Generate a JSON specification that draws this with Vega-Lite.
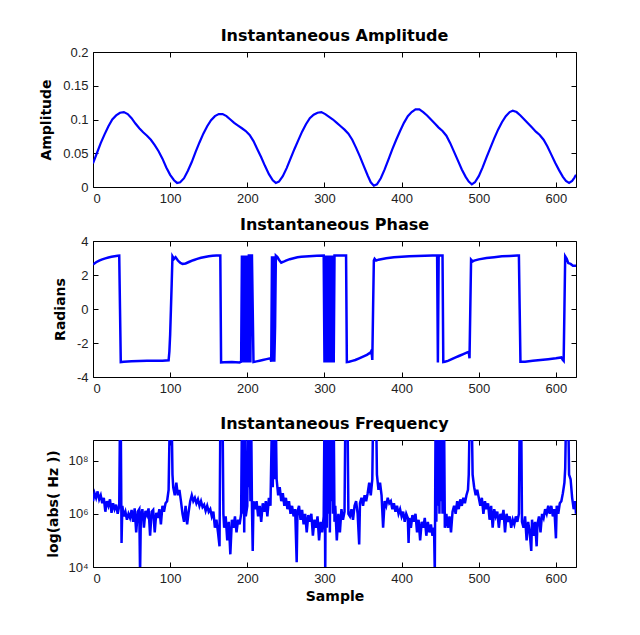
{
  "$schema": "https://vega.github.io/schema/vega-lite/v6.json",
  "padding": {"left": 39, "top": 28, "right": 5, "bottom": 5},
  "background": "white",
  "spacing": 12,
  "datasets": {
    "amp": [
      {"s":0,"v":0.035},{"s":5,"v":0.05},{"s":10,"v":0.065},{"s":15,"v":0.078},{"s":20,"v":0.09},{"s":25,"v":0.1},{"s":30,"v":0.106},{"s":35,"v":0.11},{"s":40,"v":0.111},{"s":45,"v":0.108},{"s":50,"v":0.102},{"s":55,"v":0.094},{"s":60,"v":0.087},{"s":65,"v":0.081},{"s":70,"v":0.076},{"s":75,"v":0.07},{"s":80,"v":0.062},{"s":85,"v":0.053},{"s":90,"v":0.042},{"s":95,"v":0.029},{"s":100,"v":0.018},{"s":105,"v":0.01},{"s":109,"v":0.006},{"s":113,"v":0.007},{"s":118,"v":0.013},{"s":123,"v":0.024},{"s":128,"v":0.037},{"s":133,"v":0.052},{"s":138,"v":0.066},{"s":143,"v":0.079},{"s":148,"v":0.09},{"s":153,"v":0.099},{"s":158,"v":0.105},{"s":163,"v":0.108},{"s":168,"v":0.108},{"s":173,"v":0.105},{"s":178,"v":0.1},{"s":183,"v":0.095},{"s":188,"v":0.091},{"s":193,"v":0.087},{"s":198,"v":0.083},{"s":203,"v":0.077},{"s":208,"v":0.068},{"s":213,"v":0.056},{"s":218,"v":0.044},{"s":223,"v":0.031},{"s":228,"v":0.019},{"s":233,"v":0.01},{"s":237,"v":0.006},{"s":241,"v":0.008},{"s":246,"v":0.016},{"s":251,"v":0.028},{"s":256,"v":0.042},{"s":261,"v":0.056},{"s":266,"v":0.069},{"s":271,"v":0.082},{"s":276,"v":0.093},{"s":281,"v":0.102},{"s":286,"v":0.107},{"s":291,"v":0.11},{"s":296,"v":0.111},{"s":301,"v":0.108},{"s":306,"v":0.104},{"s":311,"v":0.1},{"s":316,"v":0.095},{"s":321,"v":0.09},{"s":326,"v":0.085},{"s":331,"v":0.079},{"s":336,"v":0.07},{"s":341,"v":0.058},{"s":346,"v":0.045},{"s":351,"v":0.031},{"s":356,"v":0.017},{"s":360,"v":0.007},{"s":364,"v":0.002},{"s":368,"v":0.004},{"s":373,"v":0.013},{"s":378,"v":0.026},{"s":383,"v":0.041},{"s":388,"v":0.056},{"s":393,"v":0.07},{"s":398,"v":0.083},{"s":403,"v":0.095},{"s":408,"v":0.105},{"s":413,"v":0.111},{"s":418,"v":0.115},{"s":423,"v":0.115},{"s":428,"v":0.111},{"s":433,"v":0.106},{"s":438,"v":0.1},{"s":443,"v":0.094},{"s":448,"v":0.088},{"s":453,"v":0.083},{"s":458,"v":0.076},{"s":463,"v":0.065},{"s":468,"v":0.052},{"s":473,"v":0.039},{"s":478,"v":0.026},{"s":483,"v":0.015},{"s":487,"v":0.008},{"s":491,"v":0.004},{"s":495,"v":0.007},{"s":500,"v":0.016},{"s":505,"v":0.029},{"s":510,"v":0.044},{"s":515,"v":0.058},{"s":520,"v":0.072},{"s":525,"v":0.085},{"s":530,"v":0.096},{"s":535,"v":0.105},{"s":540,"v":0.111},{"s":544,"v":0.113},{"s":549,"v":0.111},{"s":554,"v":0.106},{"s":559,"v":0.1},{"s":564,"v":0.094},{"s":569,"v":0.088},{"s":574,"v":0.082},{"s":579,"v":0.077},{"s":584,"v":0.07},{"s":589,"v":0.06},{"s":594,"v":0.048},{"s":599,"v":0.036},{"s":604,"v":0.025},{"s":609,"v":0.015},{"s":613,"v":0.009},{"s":617,"v":0.006},{"s":621,"v":0.009},{"s":624,"v":0.014},{"s":626,"v":0.018}
    ],
    "phase": [
      {"s":0,"v":2.62},{"s":4,"v":2.75},{"s":8,"v":2.85},{"s":12,"v":2.92},{"s":16,"v":2.98},{"s":20,"v":3.03},{"s":24,"v":3.07},{"s":28,"v":3.1},{"s":32,"v":3.13},{"s":34,"v":3.14},{"s":35,"v":0},{"s":36,"v":-3.12},{"s":40,"v":-3.1},{"s":50,"v":-3.08},{"s":60,"v":-3.06},{"s":70,"v":-3.05},{"s":80,"v":-3.05},{"s":90,"v":-3.04},{"s":98,"v":-3.02},{"s":99,"v":-2.5},{"s":100,"v":-1.5},{"s":101,"v":0},{"s":102,"v":1.5},{"s":103,"v":3.1},{"s":105,"v":2.95},{"s":107,"v":3.05},{"s":110,"v":2.85},{"s":113,"v":2.72},{"s":116,"v":2.65},{"s":120,"v":2.68},{"s":125,"v":2.78},{"s":130,"v":2.87},{"s":135,"v":2.95},{"s":140,"v":3.01},{"s":145,"v":3.06},{"s":150,"v":3.1},{"s":155,"v":3.13},{"s":160,"v":3.14},{"s":165,"v":3.14},{"s":166,"v":-3.14},{"s":170,"v":-3.13},{"s":180,"v":-3.12},{"s":190,"v":-3.14},{"s":192,"v":-3.1},{"s":193,"v":3.14},{"s":194,"v":-3.14},{"s":195,"v":3.14},{"s":196,"v":0},{"s":197,"v":-3.14},{"s":198,"v":3.14},{"s":199,"v":-3.14},{"s":200,"v":3.14},{"s":201,"v":-3.14},{"s":202,"v":3.14},{"s":203,"v":3.14},{"s":204,"v":-3.14},{"s":205,"v":3.14},{"s":206,"v":3.14},{"s":207,"v":0},{"s":208,"v":-3.12},{"s":212,"v":-3.08},{"s":216,"v":-3.04},{"s":220,"v":-3.0},{"s":225,"v":-2.95},{"s":230,"v":-2.9},{"s":231,"v":-3.1},{"s":232,"v":3.1},{"s":233,"v":-3.1},{"s":234,"v":3.1},{"s":235,"v":-3.1},{"s":236,"v":-1},{"s":237,"v":3.14},{"s":239,"v":3.05},{"s":241,"v":2.9},{"s":244,"v":2.72},{"s":247,"v":2.78},{"s":250,"v":2.85},{"s":255,"v":2.93},{"s":260,"v":2.99},{"s":265,"v":3.04},{"s":270,"v":3.07},{"s":280,"v":3.1},{"s":290,"v":3.13},{"s":299,"v":3.14},{"s":300,"v":-3.14},{"s":301,"v":3.14},{"s":302,"v":-3.14},{"s":303,"v":3.14},{"s":304,"v":-3.14},{"s":305,"v":3.14},{"s":306,"v":-3.14},{"s":307,"v":3.14},{"s":308,"v":-3.14},{"s":309,"v":3.14},{"s":310,"v":-3.14},{"s":311,"v":3.14},{"s":312,"v":-3.14},{"s":313,"v":3.14},{"s":320,"v":3.14},{"s":328,"v":3.14},{"s":329,"v":-3.12},{"s":332,"v":-3.1},{"s":336,"v":-3.05},{"s":340,"v":-3.0},{"s":345,"v":-2.9},{"s":350,"v":-2.8},{"s":355,"v":-2.7},{"s":360,"v":-2.55},{"s":361,"v":-2.45},{"s":362,"v":-3.0},{"s":363,"v":0},{"s":364,"v":2.85},{"s":365,"v":2.95},{"s":367,"v":2.85},{"s":370,"v":2.9},{"s":380,"v":2.98},{"s":390,"v":3.04},{"s":400,"v":3.08},{"s":410,"v":3.1},{"s":420,"v":3.12},{"s":430,"v":3.13},{"s":440,"v":3.14},{"s":446,"v":3.14},{"s":447,"v":-3.14},{"s":448,"v":3.14},{"s":453,"v":3.14},{"s":454,"v":-3.12},{"s":456,"v":-3.1},{"s":460,"v":-3.05},{"s":465,"v":-2.95},{"s":470,"v":-2.85},{"s":475,"v":-2.75},{"s":480,"v":-2.65},{"s":485,"v":-2.55},{"s":487,"v":-2.52},{"s":488,"v":-2.9},{"s":489,"v":0},{"s":490,"v":2.9},{"s":492,"v":2.8},{"s":494,"v":2.85},{"s":500,"v":2.92},{"s":510,"v":3.0},{"s":520,"v":3.05},{"s":530,"v":3.1},{"s":540,"v":3.12},{"s":550,"v":3.14},{"s":552,"v":3.14},{"s":553,"v":0},{"s":554,"v":-3.1},{"s":560,"v":-3.1},{"s":570,"v":-3.05},{"s":580,"v":-3.0},{"s":590,"v":-2.95},{"s":600,"v":-2.9},{"s":607,"v":-2.85},{"s":609,"v":-3.0},{"s":610,"v":-3.05},{"s":611,"v":0},{"s":612,"v":3.1},{"s":614,"v":2.95},{"s":616,"v":2.7},{"s":619,"v":2.65},{"s":622,"v":2.55},{"s":626,"v":2.55}
    ],
    "freq": [
      {"s":0,"v":3e6},{"s":2,"v":6e6},{"s":4,"v":4e6},{"s":6,"v":7e6},{"s":8,"v":3.5e6},{"s":10,"v":5e6},{"s":12,"v":2.5e6},{"s":14,"v":4e6},{"s":16,"v":1.2e6},{"s":18,"v":3e6},{"s":20,"v":2e6},{"s":22,"v":3.5e6},{"s":24,"v":1.1e6},{"s":26,"v":2.5e6},{"s":28,"v":1.5e6},{"s":30,"v":2.2e6},{"s":32,"v":1e6},{"s":34,"v":2e6},{"s":35,"v":5e9},{"s":36,"v":3e9},{"s":37,"v":8e4},{"s":38,"v":2e6},{"s":40,"v":8e5},{"s":42,"v":1.2e6},{"s":44,"v":6e5},{"s":46,"v":1e6},{"s":48,"v":7e5},{"s":50,"v":1.4e6},{"s":52,"v":5e5},{"s":54,"v":1.6e6},{"s":56,"v":2e5},{"s":58,"v":1.2e6},{"s":60,"v":1.5e6},{"s":61,"v":5e3},{"s":62,"v":8e5},{"s":64,"v":1.5e6},{"s":66,"v":3e5},{"s":68,"v":1.3e6},{"s":70,"v":9e5},{"s":72,"v":1.6e6},{"s":74,"v":1.5e5},{"s":76,"v":1.2e6},{"s":78,"v":1.4e6},{"s":80,"v":2e5},{"s":82,"v":1.1e6},{"s":84,"v":7e5},{"s":86,"v":1.5e6},{"s":88,"v":4e5},{"s":90,"v":2e6},{"s":92,"v":1.2e6},{"s":94,"v":2.5e6},{"s":96,"v":3e6},{"s":98,"v":8e6},{"s":99,"v":5e8},{"s":100,"v":5e9},{"s":101,"v":2e9},{"s":102,"v":4e9},{"s":103,"v":3e7},{"s":104,"v":1e7},{"s":106,"v":5e6},{"s":108,"v":1.5e7},{"s":110,"v":5e6},{"s":112,"v":8e6},{"s":114,"v":3e6},{"s":116,"v":1e6},{"s":118,"v":5e5},{"s":120,"v":2e6},{"s":122,"v":4e5},{"s":124,"v":1.2e6},{"s":126,"v":3e6},{"s":128,"v":5e6},{"s":130,"v":3e6},{"s":132,"v":4e6},{"s":134,"v":2.5e6},{"s":136,"v":3.5e6},{"s":138,"v":2e6},{"s":140,"v":3e6},{"s":142,"v":1.8e6},{"s":144,"v":2.2e6},{"s":146,"v":1.3e6},{"s":148,"v":2e6},{"s":150,"v":1.2e6},{"s":152,"v":1.5e6},{"s":154,"v":8e5},{"s":156,"v":1.2e6},{"s":158,"v":3e5},{"s":160,"v":6e5},{"s":162,"v":2e5},{"s":164,"v":6e4},{"s":165,"v":3e9},{"s":166,"v":5e9},{"s":167,"v":2e9},{"s":168,"v":3e9},{"s":169,"v":1e6},{"s":170,"v":3e5},{"s":172,"v":8e5},{"s":174,"v":1e5},{"s":176,"v":5e5},{"s":178,"v":3e4},{"s":180,"v":6e5},{"s":182,"v":3e5},{"s":184,"v":8e5},{"s":186,"v":2e5},{"s":188,"v":6e5},{"s":190,"v":4e5},{"s":192,"v":1e6},{"s":193,"v":5e9},{"s":194,"v":1e6},{"s":195,"v":4e9},{"s":196,"v":2e5},{"s":197,"v":5e9},{"s":198,"v":8e5},{"s":200,"v":2e6},{"s":201,"v":5e9},{"s":202,"v":1e7},{"s":203,"v":4e9},{"s":204,"v":3e6},{"s":205,"v":5e9},{"s":206,"v":2e6},{"s":207,"v":4e4},{"s":208,"v":3e6},{"s":210,"v":1.5e6},{"s":212,"v":3e6},{"s":214,"v":8e5},{"s":216,"v":2e6},{"s":218,"v":5e5},{"s":220,"v":2.5e6},{"s":222,"v":1.2e6},{"s":224,"v":3e6},{"s":226,"v":8e5},{"s":228,"v":4e6},{"s":230,"v":2e6},{"s":232,"v":5e9},{"s":233,"v":1e7},{"s":234,"v":4e9},{"s":235,"v":2e7},{"s":236,"v":5e9},{"s":237,"v":3e9},{"s":238,"v":2e7},{"s":240,"v":5e6},{"s":242,"v":1e7},{"s":244,"v":3e6},{"s":246,"v":6e6},{"s":248,"v":2e6},{"s":250,"v":4e6},{"s":252,"v":1.5e6},{"s":254,"v":3e6},{"s":256,"v":1e6},{"s":258,"v":2e6},{"s":260,"v":8e5},{"s":262,"v":1.5e6},{"s":264,"v":1.5e4},{"s":265,"v":1.2e6},{"s":267,"v":2e6},{"s":269,"v":6e5},{"s":271,"v":1.4e6},{"s":273,"v":4e5},{"s":275,"v":1e6},{"s":277,"v":2e5},{"s":279,"v":9e5},{"s":281,"v":5e5},{"s":283,"v":1e6},{"s":285,"v":1.5e5},{"s":287,"v":6e5},{"s":289,"v":3e5},{"s":291,"v":8e5},{"s":293,"v":1e5},{"s":295,"v":5e5},{"s":297,"v":2e5},{"s":299,"v":8e5},{"s":300,"v":5e9},{"s":301,"v":5e3},{"s":302,"v":4e9},{"s":303,"v":3e5},{"s":304,"v":5e9},{"s":305,"v":1e6},{"s":306,"v":4e9},{"s":307,"v":2e5},{"s":308,"v":5e9},{"s":309,"v":3e6},{"s":310,"v":4e9},{"s":311,"v":1e6},{"s":312,"v":5e9},{"s":313,"v":5e5},{"s":314,"v":2e6},{"s":316,"v":1e5},{"s":318,"v":1e6},{"s":320,"v":2e5},{"s":322,"v":1.5e6},{"s":324,"v":6e5},{"s":326,"v":1.2e6},{"s":327,"v":3e9},{"s":328,"v":5e9},{"s":330,"v":2e9},{"s":331,"v":1e6},{"s":333,"v":8e5},{"s":335,"v":1.5e6},{"s":337,"v":6e5},{"s":339,"v":2e6},{"s":341,"v":3e6},{"s":343,"v":1e6},{"s":345,"v":7e4},{"s":346,"v":2.5e6},{"s":348,"v":4e6},{"s":350,"v":2e6},{"s":352,"v":5e6},{"s":354,"v":3e6},{"s":356,"v":6e6},{"s":358,"v":1.5e7},{"s":360,"v":5e6},{"s":362,"v":2e7},{"s":363,"v":5e9},{"s":365,"v":3e9},{"s":367,"v":5e9},{"s":368,"v":3e7},{"s":370,"v":8e6},{"s":372,"v":1.5e7},{"s":374,"v":5e6},{"s":376,"v":3e5},{"s":378,"v":3e6},{"s":380,"v":2e6},{"s":382,"v":4e6},{"s":384,"v":2.5e6},{"s":386,"v":3e6},{"s":388,"v":1.5e6},{"s":390,"v":2.5e6},{"s":392,"v":1.2e6},{"s":394,"v":2e6},{"s":396,"v":1e6},{"s":398,"v":1.5e6},{"s":400,"v":8e5},{"s":402,"v":1.2e6},{"s":404,"v":5e5},{"s":406,"v":1e6},{"s":408,"v":7e5},{"s":409,"v":8e4},{"s":410,"v":7e5},{"s":412,"v":3e5},{"s":414,"v":9e5},{"s":416,"v":5e5},{"s":418,"v":1e6},{"s":420,"v":2e5},{"s":422,"v":6e5},{"s":424,"v":1e5},{"s":426,"v":5e5},{"s":428,"v":3e5},{"s":430,"v":7e5},{"s":432,"v":1.5e5},{"s":434,"v":5e5},{"s":436,"v":2e5},{"s":438,"v":4e5},{"s":440,"v":1.5e5},{"s":442,"v":3e5},{"s":443,"v":6e3},{"s":444,"v":4e9},{"s":445,"v":5e5},{"s":446,"v":5e9},{"s":447,"v":2e6},{"s":448,"v":4e9},{"s":449,"v":1e6},{"s":450,"v":5e9},{"s":451,"v":3e6},{"s":452,"v":5e9},{"s":453,"v":1e6},{"s":454,"v":4e9},{"s":455,"v":5e9},{"s":456,"v":3e5},{"s":458,"v":1e6},{"s":460,"v":3e5},{"s":462,"v":8e5},{"s":464,"v":2e5},{"s":466,"v":1.2e6},{"s":468,"v":2e6},{"s":470,"v":1e6},{"s":472,"v":3e6},{"s":474,"v":1.5e6},{"s":476,"v":3.5e6},{"s":478,"v":2e6},{"s":480,"v":4e6},{"s":482,"v":2.5e6},{"s":484,"v":5e6},{"s":486,"v":8e6},{"s":487,"v":3e7},{"s":488,"v":2e9},{"s":490,"v":5e9},{"s":491,"v":3e9},{"s":492,"v":3e7},{"s":494,"v":1e7},{"s":496,"v":5e6},{"s":498,"v":8e6},{"s":500,"v":4e6},{"s":502,"v":2e6},{"s":504,"v":4e6},{"s":506,"v":1e6},{"s":508,"v":3e6},{"s":510,"v":1.5e6},{"s":512,"v":2.5e6},{"s":514,"v":6e5},{"s":516,"v":2e6},{"s":518,"v":3e5},{"s":520,"v":1.5e6},{"s":522,"v":8e5},{"s":524,"v":1.2e6},{"s":526,"v":3e5},{"s":528,"v":1e6},{"s":530,"v":6e5},{"s":532,"v":1.4e6},{"s":534,"v":2e5},{"s":536,"v":1e6},{"s":538,"v":5e5},{"s":540,"v":8e5},{"s":542,"v":3e5},{"s":544,"v":6e5},{"s":546,"v":4e5},{"s":548,"v":8e5},{"s":550,"v":5e5},{"s":552,"v":1e6},{"s":553,"v":5e9},{"s":555,"v":4e9},{"s":556,"v":5e5},{"s":558,"v":3e5},{"s":560,"v":8e5},{"s":562,"v":1e5},{"s":564,"v":5e5},{"s":566,"v":2e5},{"s":568,"v":4e4},{"s":569,"v":6e5},{"s":571,"v":1.5e5},{"s":573,"v":5e5},{"s":575,"v":6e4},{"s":576,"v":4e5},{"s":578,"v":8e5},{"s":580,"v":2e5},{"s":582,"v":1e6},{"s":584,"v":7e5},{"s":586,"v":1.5e6},{"s":588,"v":1e6},{"s":590,"v":2e6},{"s":592,"v":1e6},{"s":594,"v":2e6},{"s":596,"v":8e5},{"s":598,"v":1.5e6},{"s":600,"v":1.2e5},{"s":601,"v":2e6},{"s":603,"v":1e6},{"s":605,"v":2.5e6},{"s":607,"v":3e6},{"s":609,"v":6e6},{"s":611,"v":1.5e7},{"s":612,"v":5e7},{"s":613,"v":3e9},{"s":614,"v":5e9},{"s":615,"v":2e9},{"s":616,"v":5e9},{"s":617,"v":3e7},{"s":619,"v":2e7},{"s":621,"v":4e6},{"s":623,"v":1.5e6},{"s":625,"v":3e6},{"s":626,"v":1e6}
    ]
  },
  "vconcat": [
    {
      "title": {"text": "Instantaneous Amplitude", "offset": 2},
      "width": 483, "height": 135,
      "data": {"name": "amp"},
      "layer": [
        {
          "mark": {"type": "line", "color": "#0000ff", "strokeWidth": 2.2, "clip": true},
          "encoding": {
            "x": {"field": "s", "type": "quantitative", "scale": {"domain": [0, 626], "nice": false, "zero": false},
                  "axis": {"orient": "bottom", "values": [0,100,200,300,400,500,600], "title": null}},
            "y": {"field": "v", "type": "quantitative", "scale": {"domain": [0, 0.2], "nice": false},
                  "axis": {"orient": "left", "values": [0,0.05,0.1,0.15,0.2], "format": "~g", "title": "Amplitude", "titlePadding": 9}}
          }
        },
        {
          "mark": {"type": "line", "opacity": 0, "clip": true},
          "encoding": {
            "x": {"field": "s", "type": "quantitative", "axis": {"orient": "top", "values": [0,100,200,300,400,500,600], "labels": false, "title": null}},
            "y": {"field": "v", "type": "quantitative", "axis": {"orient": "right", "values": [0,0.05,0.1,0.15,0.2], "labels": false, "title": null}}
          }
        }
      ],
      "resolve": {"axis": {"x": "independent", "y": "independent"}}
    },
    {
      "title": {"text": "Instantaneous Phase", "offset": 2},
      "width": 483, "height": 136,
      "data": {"name": "phase"},
      "layer": [
        {
          "mark": {"type": "line", "color": "#0000ff", "strokeWidth": 2.5, "clip": true},
          "encoding": {
            "x": {"field": "s", "type": "quantitative", "scale": {"domain": [0, 626], "nice": false, "zero": false},
                  "axis": {"orient": "bottom", "values": [0,100,200,300,400,500,600], "title": " ", "titleFontSize": 6, "titlePadding": 2}},
            "y": {"field": "v", "type": "quantitative", "scale": {"domain": [-4, 4], "nice": false},
                  "axis": {"orient": "left", "values": [-4,-2,0,2,4], "labelExpr": "datum.value < 0 ? '-' + abs(datum.value) : '' + datum.value", "title": "Radians", "titlePadding": 9}}
          }
        },
        {
          "mark": {"type": "line", "opacity": 0, "clip": true},
          "encoding": {
            "x": {"field": "s", "type": "quantitative", "axis": {"orient": "top", "values": [0,100,200,300,400,500,600], "labels": false, "title": null}},
            "y": {"field": "v", "type": "quantitative", "axis": {"orient": "right", "values": [-4,-2,0,2,4], "labels": false, "title": null}}
          }
        }
      ],
      "resolve": {"axis": {"x": "independent", "y": "independent"}}
    },
    {
      "title": {"text": "Instantaneous Frequency", "offset": 8},
      "width": 483, "height": 127,
      "data": {"name": "freq"},
      "layer": [
        {
          "mark": {"type": "line", "color": "#0000ff", "strokeWidth": 2.5, "clip": true},
          "encoding": {
            "x": {"field": "s", "type": "quantitative", "scale": {"domain": [0, 626], "nice": false, "zero": false},
                  "axis": {"orient": "bottom", "values": [0,100,200,300,400,500,600], "title": "Sample", "titlePadding": 4}},
            "y": {"field": "v", "type": "quantitative", "scale": {"type": "log", "domain": [10000, 600000000], "nice": false},
                  "axis": {"orient": "left", "values": [10000, 1000000, 100000000], "labelExpr": "datum.value < 100000 ? '10⁴' : datum.value < 10000000 ? '10⁶' : '10⁸'", "title": "log(abs( Hz ))", "titlePadding": 7}}
          }
        },
        {
          "mark": {"type": "line", "opacity": 0, "clip": true},
          "encoding": {
            "x": {"field": "s", "type": "quantitative", "axis": {"orient": "top", "values": [0,100,200,300,400,500,600], "labels": false, "title": null}},
            "y": {"field": "v", "type": "quantitative", "axis": {"orient": "right", "values": [10000, 1000000, 100000000], "labels": false, "title": null}}
          }
        }
      ],
      "resolve": {"axis": {"x": "independent", "y": "independent"}}
    }
  ],
  "config": {
    "view": {"stroke": null},
    "axis": {
      "grid": false,
      "domainColor": "#000000",
      "domainWidth": 1,
      "tickColor": "#000000",
      "tickSize": -5,
      "labelPadding": 10,
      "labelFont": "Liberation Sans",
      "labelFontSize": 13,
      "labelColor": "#222222",
      "titleFont": "DejaVu Sans",
      "titleFontSize": 14,
      "titleFontWeight": "bold",
      "titleColor": "#000000"
    },
    "title": {"font": "DejaVu Sans", "fontSize": 16, "fontWeight": "bold", "color": "#000000"}
  }
}
